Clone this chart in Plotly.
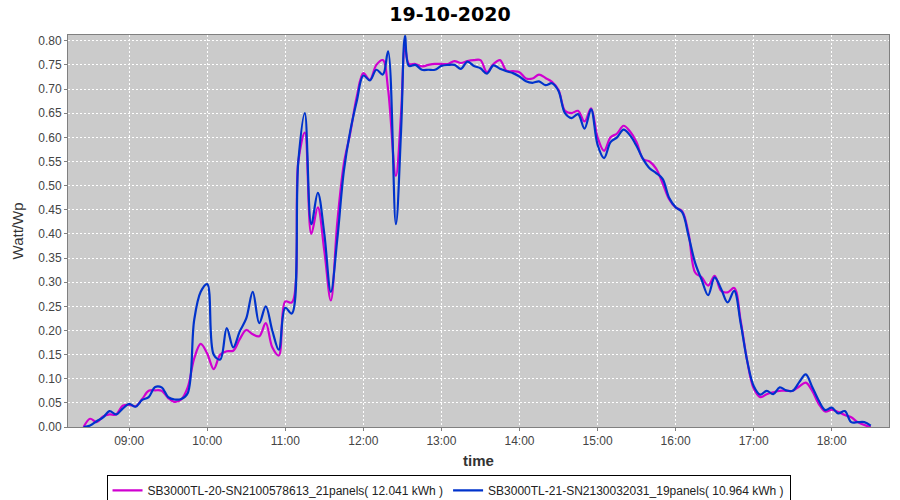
import plotly.graph_objects as go

title_text = "19-10-2020"
day = "2020-10-19"

times = [
    "08:25", "08:30", "08:35", "08:40", "08:45", "08:50", "08:55", "09:00", "09:05", "09:10",
    "09:15", "09:20", "09:25", "09:30", "09:35", "09:40", "09:45", "09:50", "09:55", "10:00",
    "10:05", "10:10", "10:15", "10:20", "10:25", "10:30", "10:35", "10:40", "10:45", "10:50",
    "10:55", "11:00", "11:05", "11:10", "11:15", "11:20", "11:25", "11:30", "11:35", "11:40",
    "11:45", "11:50", "11:55", "12:00", "12:05", "12:10", "12:15", "12:19", "12:25", "12:29",
    "12:32", "12:35", "12:40", "12:45", "12:50", "12:55", "13:00", "13:05", "13:10", "13:15",
    "13:20", "13:25", "13:30", "13:35", "13:40", "13:45", "13:50", "13:55", "14:00", "14:05",
    "14:10", "14:15", "14:20", "14:25", "14:30", "14:35", "14:40", "14:45", "14:50", "14:55",
    "15:00", "15:05", "15:10", "15:15", "15:20", "15:25", "15:30", "15:35", "15:40", "15:45",
    "15:50", "15:55", "16:00", "16:05", "16:10", "16:15", "16:20", "16:25", "16:30", "16:35",
    "16:40", "16:45", "16:50", "16:55", "17:00", "17:05", "17:10", "17:15", "17:20", "17:25",
    "17:30", "17:35", "17:40", "17:45", "17:50", "17:55", "18:00", "18:05", "18:10", "18:15",
    "18:20", "18:25", "18:30",
]

sb20_values = [
    0.000, 0.017, 0.010, 0.022, 0.026, 0.026, 0.044, 0.046, 0.043, 0.058,
    0.075, 0.076, 0.075, 0.060, 0.052, 0.057, 0.082, 0.142, 0.172, 0.152,
    0.120, 0.150, 0.157, 0.158, 0.182, 0.201, 0.192, 0.188, 0.215, 0.165,
    0.148, 0.260, 0.258, 0.550, 0.610, 0.400, 0.455, 0.365, 0.262, 0.425,
    0.545, 0.610, 0.685, 0.733, 0.719, 0.750, 0.760, 0.700, 0.520, 0.650,
    0.787, 0.752, 0.752, 0.747, 0.750, 0.752, 0.752, 0.752, 0.758, 0.754,
    0.758, 0.760, 0.760, 0.735, 0.752, 0.760, 0.738, 0.737, 0.735, 0.722,
    0.722, 0.730, 0.723, 0.715, 0.698, 0.655, 0.650, 0.655, 0.633, 0.660,
    0.600, 0.572, 0.600, 0.608, 0.624, 0.612, 0.590, 0.555, 0.550, 0.535,
    0.505, 0.472, 0.455, 0.447, 0.400, 0.320, 0.310, 0.293, 0.313, 0.282,
    0.279, 0.288, 0.220, 0.137, 0.080, 0.062, 0.068, 0.072, 0.075, 0.075,
    0.075, 0.084, 0.092, 0.075, 0.048, 0.032, 0.036, 0.031, 0.025, 0.020,
    0.010, 0.004, 0.000,
]

sb21_values = [
    0.000, 0.003, 0.012, 0.020, 0.033, 0.026, 0.038, 0.048, 0.042, 0.056,
    0.062, 0.083, 0.082, 0.062, 0.057, 0.058, 0.070, 0.222, 0.280, 0.296,
    0.150, 0.140, 0.205, 0.165, 0.198, 0.225, 0.280, 0.215, 0.250, 0.200,
    0.160, 0.247, 0.235, 0.550, 0.650, 0.420, 0.485, 0.400, 0.280, 0.390,
    0.530, 0.614, 0.676, 0.728, 0.718, 0.740, 0.730, 0.778, 0.420, 0.614,
    0.810, 0.748, 0.750, 0.740, 0.740, 0.740, 0.748, 0.750, 0.750, 0.742,
    0.757, 0.748, 0.743, 0.732, 0.749, 0.742, 0.737, 0.733, 0.726, 0.716,
    0.713, 0.716, 0.708, 0.712, 0.696, 0.650, 0.640, 0.648, 0.618, 0.658,
    0.585, 0.557, 0.590, 0.600, 0.616, 0.604, 0.582, 0.555, 0.536, 0.526,
    0.514, 0.475, 0.455, 0.445, 0.395, 0.340, 0.305, 0.273, 0.310, 0.286,
    0.258, 0.282, 0.215, 0.137, 0.085, 0.067, 0.075, 0.068, 0.082, 0.076,
    0.075, 0.093, 0.109, 0.083, 0.055, 0.035, 0.040, 0.028, 0.033, 0.010,
    0.010, 0.010, 0.003,
]

series_names = [
    "SB3000TL-20-SN2100578613_21panels( 12.041 kWh )",
    "SB3000TL-21-SN2130032031_19panels( 10.964 kWh )",
]
series_colors = ["#D000D0", "#0033CC"]

x_vals = [f"{day} {t}" for t in times]

fig = go.Figure()
for name, vals, col in zip(series_names, [sb20_values, sb21_values], series_colors):
    fig.add_trace(go.Scatter(
        x=x_vals, y=vals, name=name, mode="lines",
        line=dict(color=col, width=2.2, shape="spline", smoothing=1.0),
    ))

fig.update_layout(
    width=900, height=500,
    paper_bgcolor="white", plot_bgcolor="#CBCBCB",
    margin=dict(l=68, r=11, t=35, b=73, autoexpand=False),
    title=dict(text=title_text, x=0.5, xanchor="center", y=0.972, yanchor="middle",
               font=dict(family="DejaVu Sans", size=19, color="black", weight="bold")),
    font=dict(family="Liberation Sans", size=12, color="#444444"),
    showlegend=True,
    legend=dict(orientation="h", x=0.4635, xanchor="center", y=-0.122, yanchor="top",
                bgcolor="white", bordercolor="black", borderwidth=1,
                font=dict(family="Liberation Sans", size=12, color="#222222"),
                itemwidth=30, tracegroupgap=0),
)

fig.update_xaxes(
    type="date",
    range=[f"{day} 08:13", f"{day} 18:44"],
    tick0=f"{day} 09:00", dtick=3600000, tickformat="%H:%M",
    showgrid=True, gridcolor="white", griddash="2px,2px", gridwidth=1,
    showline=True, linecolor="#808080", linewidth=1, mirror=True,
    ticks="outside", ticklen=3, tickcolor="#808080",
    tickfont=dict(family="Liberation Sans", size=12, color="#444444"),
    title=dict(text="time", standoff=8,
               font=dict(family="Liberation Sans", size=15, color="#333333", weight="bold")),
    zeroline=False, automargin=False,
)
fig.update_yaxes(
    range=[0, 0.812], dtick=0.05, tick0=0, tickformat=".2f",
    showgrid=True, gridcolor="white", griddash="2px,2px", gridwidth=1,
    showline=True, linecolor="#808080", linewidth=1, mirror=True,
    ticks="outside", ticklen=3, tickcolor="#808080",
    tickfont=dict(family="Liberation Sans", size=12, color="#444444"),
    title=dict(text="Watt/Wp", standoff=10,
               font=dict(family="Liberation Sans", size=15, color="#333333")),
    zeroline=False, automargin=False,
)

fig.write_html(
    "out.html",
    config={"displayModeBar": False},
    post_script="document.body.style.margin='0px';document.body.style.overflow='hidden';",
)
